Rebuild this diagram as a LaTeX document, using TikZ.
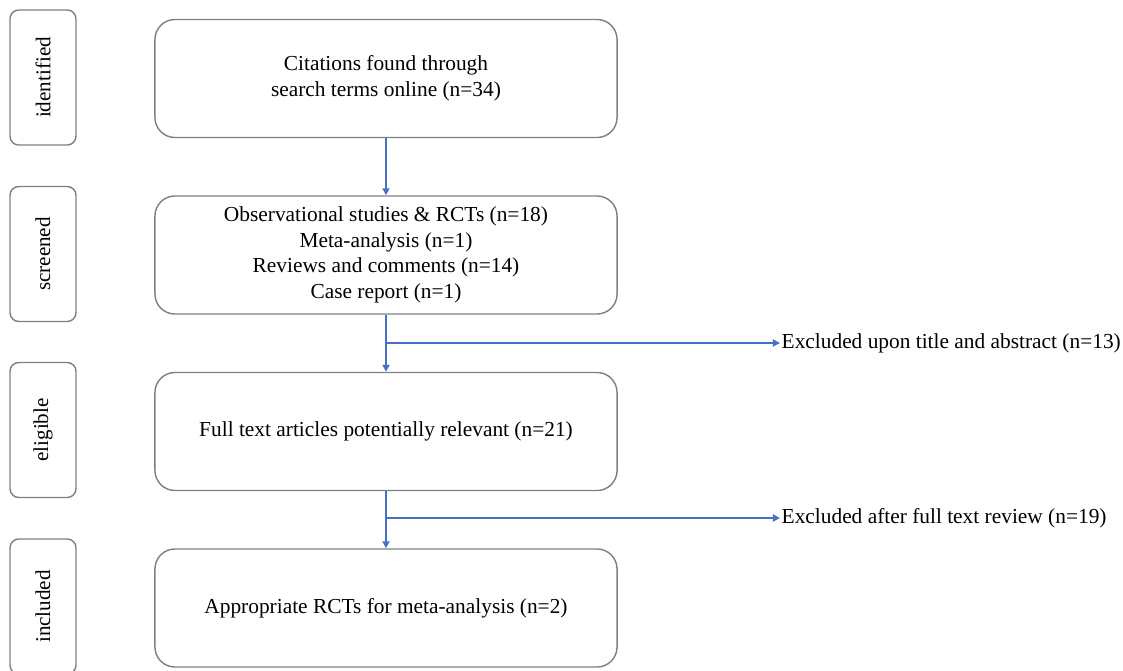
\documentclass[tikz,border=0pt]{standalone}
\usepackage{fontspec}
\setmainfont{Liberation Serif}
\usetikzlibrary{positioning, arrows.meta, calc}
\definecolor{flowgray}{HTML}{7F7F7F}
\definecolor{flowblue}{HTML}{4472C4}

\tikzset{
  mainbox/.style={draw=flowgray, line width=1pt, rounded corners=0.5cm, align=center,
    minimum width=11.55cm, minimum height=2.95cm, font=\fontsize{15.2}{18.2}\selectfont},
  sidebox/.style={draw=flowgray, line width=1pt, rounded corners=0.22cm, rotate=90,
    minimum width=3.375cm, minimum height=1.65cm, font=\fontsize{15}{18}\selectfont},
  flowarrow/.style={-{Triangle[length=5pt,width=5pt]}, draw=flowblue, line width=1.3pt},
  excltext/.style={anchor=west, inner sep=1pt, font=\fontsize{15.2}{18}\selectfont}
}

\begin{document}
\begin{tikzpicture}[x=0.025cm, y=-0.025cm]
    \useasboundingbox (0,0) rectangle (1123,670);
    % stage labels
    \node[sidebox] (lblid) at (43,77.5) {identified};
    \node[sidebox] (lblscr) at (43,254) {screened};
    \node[sidebox] (lblelig) at (43,430) {eligible};
    \node[sidebox] (lblincl) at (43,606.5) {included};
    % main flow
    \node[mainbox] (cite) at (386,78.5) {Citations found through\\search terms online (n=34)};
    \node[mainbox] (screen) at (386,255) {Observational studies \& RCTs (n=18)\\Meta-analysis (n=1)\\Reviews and comments (n=14)\\Case report (n=1)};
    \node[mainbox] (fulltext) at (386,431.5) {Full text articles potentially relevant (n=21)};
    \node[mainbox] (rcts) at (386,608) {Appropriate RCTs for meta-analysis (n=2)};
    \draw[flowarrow] (cite) -- (screen);
    \draw[flowarrow] (screen) -- (fulltext);
    \draw[flowarrow] (fulltext) -- (rcts);
    % exclusions
    \coordinate (split1) at (386,343);
    \coordinate (split2) at (386,518);
    \node[excltext] (excl1) at (780,343) {Excluded upon title and abstract (n=13)};
    \node[excltext] (excl2) at (780,518) {Excluded after full text review (n=19)};
    \draw[flowarrow] (split1) -- (excl1);
    \draw[flowarrow] (split2) -- (excl2);
\end{tikzpicture}
\end{document}
